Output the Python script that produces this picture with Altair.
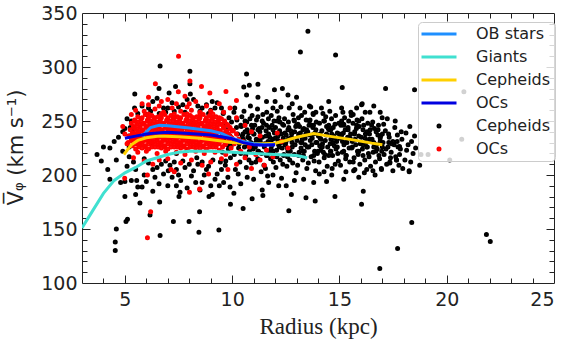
import altair as alt
import pandas as pd

# ---------------- running-mean curves ----------------
ob_r = [5.8, 6.2, 6.6, 7.0, 8.0, 9.0, 9.5, 10.0, 10.5, 11.0, 11.5, 12.0]
ob_v = [236, 244, 246, 245.5, 243.5, 241, 238.5, 234, 231, 229, 228, 228]
giant_r = [3.0, 3.5, 4.0, 4.5, 5.0, 5.5, 6.0, 6.5, 7.0, 7.5, 8.0, 9.0, 10.0, 11.0, 12.0, 13.0, 13.5]
giant_v = [151, 167, 183, 195, 202, 207, 213, 216, 219, 221, 222, 222, 221, 220, 219, 218, 216]
cepl_r = [4.95, 5.3, 5.6, 6.0, 6.6, 7.5, 8.5, 9.5, 10.0, 11.0, 11.5, 12.0, 12.5, 13.0, 13.8, 14.5, 15.5, 16.5, 17.0]
cepl_v = [219, 228, 232, 234.5, 236, 235.5, 234, 231.5, 230, 229, 229, 229.5, 232, 235, 238.5, 236, 233, 229.5, 228]
ocl_r = [5.0, 5.5, 6.0, 6.5, 7.0, 8.0, 9.0, 9.5, 10.0, 10.5, 11.0, 11.5, 12.0]
ocl_v = [234, 236, 238, 239, 239.5, 238.5, 237, 235.5, 233.5, 230, 228, 227.5, 228]

# ---------------- individual Cepheids (black) ----------------
cep_left = [(3.7,219),(3.9,213),(4.0,226),(4.2,205),(4.3,225),(4.3,196),(4.5,231),(4.6,214),(4.6,150),(4.55,138),
            (4.55,130),(4.8,193),(4.9,240),(5.0,180),(5.0,194),(5.05,157),(5.12,159),(5.1,208),(5.0,243),(5.2,226),
            (5.3,195),(5.4,243),(5.46,275),(5.3,250),(5.2,236),(4.9,222),(5.5,182),(5.55,195),(5.7,174),(5.4,212),
            (5.5,205),(5.2,217),(5.35,232),(5.45,262),(5.6,257),(5.6,189),(5.1,252),(4.7,235),(5.25,244)]
cep_mid = [(5.8,264),(6.0,256),(6.1,262),(6.3,268),(6.5,271),(6.59,280),(6.64,301),(6.8,262),(6.9,258),(7.06,276),
           (7.2,267),(7.36,282),(7.5,263),(7.7,265),(7.9,270),(8.03,296),(8.03,284.5),(8.05,275),(8.2,270),(8.4,264),
           (8.6,262),(8.8,265),(9.07,268),(9.3,267),(9.5,262),(9.6,258),(6.2,259),(7.0,262),(7.3,259),(8.5,259),
           (9.0,260),(9.2,262),(7.8,258),(6.6,257),(8.9,257),
           (5.8,189),(5.9,200),(6.17,163),(6.3,205),(6.4,198),(6.59,192),(6.62,175),(6.64,144),(7.0,190),(7.02,204),
           (6.7,210),(7.2,198),(7.26,157),(7.3,212),(7.4,205),(7.57,184),(7.52,180),(7.6,195),(7.8,207),(7.99,157),
           (8.1,199),(8.3,193),(8.4,210),(8.45,147),(8.48,166),(8.5,186),(8.7,200),(8.8,205),(8.92,180),(9.07,182),
           (9.1,214),(9.2,196),(9.38,149),(9.4,190),(9.5,205),(9.7,213),(9.8,198),(9.92,173),(6.1,211),(6.5,207),
           (6.9,213),(7.1,209),(7.7,213),(8.0,210),(8.2,204),(8.6,212),(8.9,208),(9.3,201),(9.6,193),(6.0,194),
           (6.8,201),(7.4,190),(8.6,193),(9.0,190),(7.9,188),(6.3,185),(5.9,215),(7.5,200),(8.35,216),(9.45,212),
           (6.25,230),(6.8,236),(7.4,220),(7.9,223),(8.6,240),(9.1,229),(7.2,244),(8.2,248)]
cep_core = [(9.55,221),(9.62,238),(9.7,247),(9.78,228),(9.85,253),(9.92,216),(9.6,232),(9.68,209),(9.75,242),(9.82,224),
            (9.9,236),(9.97,249),(9.58,257),(9.95,227),
            (10.03,241),(10.1,219),(10.17,232),(10.22,251),(10.3,225),(10.36,212),(10.42,245),(10.08,258),(10.15,205),(10.25,238),
            (10.33,229),(10.4,220),(10.47,236),(10.05,230),(10.2,244),(10.45,254),(10.28,201),(10.12,262),
            (10.52,233),(10.58,246),(10.63,218),(10.7,227),(10.76,239),(10.83,252),(10.9,211),(10.95,243),(10.55,259),(10.66,207),
            (10.73,235),(10.8,222),(10.87,230),(10.93,255),(10.6,240),(10.78,214),(10.98,224),(10.68,249),(10.85,264),(10.57,226),
            (11.02,238),(11.08,226),(11.13,251),(11.19,215),(11.25,243),(11.31,231),(11.37,220),(11.43,256),(11.48,209),(11.05,246),
            (11.12,233),(11.18,261),(11.23,222),(11.29,240),(11.35,203),(11.41,235),(11.46,248),(11.1,212),(11.27,229),(11.39,244),(11.2,254),
            (11.52,229),(11.58,241),(11.63,218),(11.69,252),(11.75,235),(11.81,224),(11.86,246),(11.92,212),(11.97,239),(11.55,206),
            (11.61,258),(11.67,231),(11.73,244),(11.79,215),(11.84,227),(11.9,262),(11.95,250),(11.57,236),(11.7,221),(11.88,233),(11.65,199),(11.82,255),
            (12.02,244),(12.07,223),(12.13,236),(12.18,253),(12.24,214),(12.3,230),(12.35,247),(12.41,219),(12.46,239),(12.04,207),
            (12.1,259),(12.16,228),(12.21,241),(12.27,263),(12.33,225),(12.38,234),(12.44,252),(12.08,217),(12.22,249),(12.36,210),(12.48,228),(12.14,232),
            (12.52,237),(12.57,225),(12.62,249),(12.68,214),(12.73,241),(12.79,230),(12.84,256),(12.9,219),(12.96,245),(12.55,208),
            (12.6,233),(12.66,262),(12.71,222),(12.77,238),(12.82,211),(12.88,251),(12.93,228),(12.98,202),(12.64,244),(12.8,234),(12.91,240),(12.58,217),
            (13.02,232),(13.07,247),(13.12,221),(13.18,239),(13.23,255),(13.29,214),(13.34,243),(13.4,228),(13.45,251),(13.05,209),
            (13.1,236),(13.16,262),(13.21,225),(13.27,233),(13.32,218),(13.38,258),(13.43,238),(13.48,206),(13.14,245),(13.25,230),(13.36,222),(13.47,242),(13.09,253),
            (13.52,240),(13.57,226),(13.63,251),(13.68,217),(13.73,234),(13.79,246),(13.84,222),(13.9,258),(13.95,230),(13.55,211),
            (13.6,237),(13.66,263),(13.71,228),(13.76,244),(13.82,213),(13.87,239),(13.92,249),(13.97,220),(13.64,232),(13.78,256),(13.89,204),(13.58,246),
            (14.02,236),(14.07,248),(14.12,223),(14.18,241),(14.23,257),(14.29,216),(14.34,232),(14.4,245),(14.45,226),(14.05,212),
            (14.1,238),(14.16,262),(14.21,229),(14.27,250),(14.32,219),(14.38,237),(14.43,208),(14.48,243),(14.14,233),(14.25,221),(14.36,254),(14.08,227),
            (14.52,242),(14.57,229),(14.63,252),(14.68,218),(14.73,236),(14.79,247),(14.84,224),(14.9,239),(14.95,213),(14.55,259),
            (14.6,233),(14.66,206),(14.71,244),(14.76,227),(14.82,255),(14.87,231),(14.92,220),(14.97,248),(14.64,238),(14.8,210),(14.58,222),
            (15.02,234),(15.07,246),(15.13,221),(15.18,239),(15.24,253),(15.29,215),(15.35,230),(15.4,244),(15.45,225),(15.05,209),
            (15.1,237),(15.16,258),(15.21,228),(15.27,242),(15.32,218),(15.38,235),(15.43,250),(15.48,212),(15.14,231),(15.3,203),(15.2,247),
            (15.52,238),(15.57,225),(15.63,248),(15.68,216),(15.73,233),(15.79,243),(15.84,222),(15.9,236),(15.95,210),(15.55,255),
            (15.6,231),(15.66,204),(15.71,240),(15.76,228),(15.82,251),(15.87,219),(15.92,245),(15.97,229),(15.64,212),
            (16.02,235),(16.07,224),(16.13,246),(16.18,214),(16.24,230),(16.29,240),(16.35,220),(16.4,233),(16.45,208),(16.05,252),
            (16.1,228),(16.16,202),(16.21,238),(16.27,226),(16.32,248),(16.38,217),(16.43,242),(16.48,231),(16.2,258),
            (16.52,233),(16.57,221),(16.63,243),(16.68,212),(16.73,228),(16.79,237),(16.84,218),(16.9,231),(16.95,206),(16.55,249),
            (16.6,226),(16.66,200),(16.71,240),(16.76,224),(16.82,246),(16.87,215),(16.92,236),(16.97,222),
            (17.03,230),(17.08,219),(17.14,241),(17.2,210),(17.26,226),(17.32,235),(17.38,216),(17.44,229),(17.49,204),(17.06,247),
            (17.17,224),(17.29,238),(17.41,221),(17.23,252),(17.35,212),
            (17.55,228),(17.62,217),(17.7,237),(17.77,209),(17.84,224),(17.91,233),(17.58,244),(17.66,214),(17.73,226),(17.8,219),
            (17.88,240),(17.95,206),(17.69,231),
            (18.05,214),(18.13,223),(18.1,239),(18.28,245),(18.36,231),(18.25,204),(18.43,220),(18.2,228),(18.5,236),(18.32,212),(18.55,225)]
cep_out = [(18.74,209),(18.8,219),(19.13,219),(20.14,214),(20.7,233),(20.8,277),(18.5,279),(17.15,280),(15.13,281),(14.82,311),
           (13.18,314),(13.53,333),(16.06,266),(16.6,264),(15.1,262),(15.53,258),(16.42,258),(16.99,253),(13.6,264),(13.77,257),
           (10.67,293.5),(10.54,281.5),(10.8,283),(11.2,284),(10.67,274),(11.2,272),(11.97,279),(12.34,280),(12.6,274),(13.0,272),
           (12.0,268),(12.8,266),(11.6,268),(14.5,268),(15.8,262),(16.9,258),(17.6,250),(17.49,231),(17.8,226.5),(17.66,214),
           (17.35,211),(16.96,205),(16.56,204),(16.27,205),(15.72,205),(15.64,256),(16.03,265),
           (10.08,183),(10.51,169),(10.93,178),(11.43,181),(11.4,186),(12.17,190),(12.52,190),(12.64,167),(12.76,182),(13.44,179),
           (13.87,176),(13.33,196),(14.06,201),(14.28,203),(14.64,200),(14.79,180),(16.03,173),(16.11,185),(18.37,156),(17.71,132),
           (16.88,113.5),(21.85,145),(22.03,138.5),(18.25,203),(11.0,196),(11.7,193),(12.9,195),(13.8,193),(14.4,194),(15.2,196),
           (15.9,198),(10.4,192),(10.7,198),(11.9,200),(12.3,197),(9.9,189)]
# densest part of the Cepheid cloud, read row by row (velocity: radii)
cep_dense_rows = [
    (250, [10.6, 11.4, 12.1, 12.9, 13.6, 14.3, 15.1, 15.9]),
    (246, [10.4, 10.9, 11.6, 12.4, 13.0, 13.7, 14.5, 15.2, 15.8, 16.5]),
    (242, [10.7, 11.2, 11.9, 12.6, 13.3, 13.9, 14.6, 15.4, 16.1, 16.8]),
    (238, [10.5, 11.0, 11.7, 12.3, 13.1, 13.8, 14.4, 15.0, 15.7, 16.4, 17.0]),
    (234, [10.8, 11.3, 12.0, 12.7, 13.4, 14.1, 14.8, 15.5, 16.2, 16.9]),
    (230, [10.6, 11.1, 11.8, 12.5, 13.2, 13.9, 14.7, 15.3, 16.0, 16.6, 17.3]),
    (226, [10.9, 11.5, 12.2, 12.8, 13.5, 14.2, 14.9, 15.6, 16.3, 17.0]),
    (222, [11.2, 11.9, 12.6, 13.3, 14.0, 14.6, 15.2, 15.9, 16.7]),
    (218, [11.6, 12.4, 13.1, 13.8, 14.5, 15.3, 16.1]),
]

# ---------------- individual open clusters (red) ----------------
oc_core = [(5.9,259),(6.4,261),(6.8,258),(7.2,262),(7.6,259),(8.1,260),(8.5,258),(9.0,259),(6.1,265),(7.4,266),(8.8,264),(6.7,268),(7.9,263),
           (5.6,254),(5.95,256),(6.25,255),(6.55,254),(6.85,256),(7.15,255),(7.45,254),(7.75,256),(8.05,255),(8.35,254),(8.65,256),(8.95,255),(9.25,254),(9.5,252),
           (5.45,251),(5.75,252),(6.05,251),(6.35,253),(6.65,252),(6.95,251),(7.25,253),(7.55,252),(7.85,251),(8.15,253),(8.45,252),(8.75,251),(9.05,253),(9.35,250),(9.65,249),
           (5.3,248),(5.6,249),(5.9,248),(6.2,250),(6.5,249),(6.8,248),(7.1,250),(7.4,249),(7.7,248),(8.0,250),(8.3,249),(8.6,248),(8.9,250),(9.2,249),(9.5,247),(9.8,246),
           (5.4,245),(5.7,246),(6.0,245),(6.3,247),(6.6,246),(6.9,245),(7.2,247),(7.5,246),(7.8,245),(8.1,247),(8.4,246),(8.7,245),(9.0,247),(9.3,246),(9.6,244),(9.9,243),
           (5.25,242),(5.55,243),(5.85,242),(6.15,244),(6.45,243),(6.75,242),(7.05,244),(7.35,243),(7.65,242),(7.95,244),(8.25,243),(8.55,242),(8.85,244),(9.15,243),(9.45,241),(9.75,240),(10.05,241),
           (5.35,239),(5.65,240),(5.95,239),(6.25,241),(6.55,240),(6.85,239),(7.15,241),(7.45,240),(7.75,239),(8.05,241),(8.35,240),(8.65,239),(8.95,241),(9.25,240),(9.55,238),(9.85,237),(10.2,238),
           (5.2,236),(5.5,237),(5.8,236),(6.1,238),(6.4,237),(6.7,236),(7.0,238),(7.3,237),(7.6,236),(7.9,238),(8.2,237),(8.5,236),(8.8,238),(9.1,237),(9.4,235),(9.7,236),(10.0,234),
           (5.3,233),(5.6,234),(5.9,233),(6.2,235),(6.5,234),(6.8,233),(7.1,235),(7.4,234),(7.7,233),(8.0,235),(8.3,234),(8.6,233),(8.9,235),(9.2,234),(9.5,232),(9.8,231),(10.3,233),
           (5.15,230),(5.45,231),(5.75,230),(6.05,232),(6.35,231),(6.65,230),(6.95,232),(7.25,231),(7.55,230),(7.85,232),(8.15,231),(8.45,230),(8.75,232),(9.05,231),(9.35,229),(9.65,228),(10.1,229),
           (5.35,227),(5.65,228),(5.95,227),(6.25,229),(6.55,228),(6.85,227),(7.15,229),(7.45,228),(7.75,227),(8.05,229),(8.35,228),(8.65,227),(8.95,229),(9.25,228),(9.55,226),(9.95,225),
           (5.5,224),(5.8,225),(6.1,224),(6.4,226),(6.7,225),(7.0,224),(7.3,226),(7.6,225),(7.9,224),(8.2,226),(8.5,225),(8.8,224),(9.1,226),(9.4,223),
           (5.6,221),(6.0,222),(6.5,220),(6.9,222),(7.4,221),(7.8,219),(8.3,222),(8.7,220),(9.2,221),(9.7,219)]
oc_dense_rows = [
    (256.5, [6.1, 6.7, 7.3, 7.9, 8.5, 9.1]),
    (253, [5.8, 6.1, 6.4, 6.7, 7.0, 7.3, 7.6, 7.9, 8.2, 8.5, 8.8, 9.1, 9.4]),
    (250, [5.45, 5.75, 6.05, 6.35, 6.65, 6.95, 7.25, 7.55, 7.85, 8.15, 8.45, 8.75, 9.05, 9.35, 9.65]),
    (247, [5.55, 5.85, 6.15, 6.45, 6.75, 7.05, 7.35, 7.65, 7.95, 8.25, 8.55, 8.85, 9.15, 9.45, 9.75]),
    (244, [5.4, 5.7, 6.0, 6.3, 6.6, 6.9, 7.2, 7.5, 7.8, 8.1, 8.4, 8.7, 9.0, 9.3, 9.6, 9.9]),
    (241, [5.5, 5.8, 6.1, 6.4, 6.7, 7.0, 7.3, 7.6, 7.9, 8.2, 8.5, 8.8, 9.1, 9.4, 9.7, 10.0]),
    (238, [5.35, 5.65, 5.95, 6.25, 6.55, 6.85, 7.15, 7.45, 7.75, 8.05, 8.35, 8.65, 8.95, 9.25, 9.55, 9.85]),
    (235, [5.45, 5.75, 6.05, 6.35, 6.65, 6.95, 7.25, 7.55, 7.85, 8.15, 8.45, 8.75, 9.05, 9.35, 9.65, 9.95]),
    (232, [5.3, 5.6, 5.9, 6.2, 6.5, 6.8, 7.1, 7.4, 7.7, 8.0, 8.3, 8.6, 8.9, 9.2, 9.5, 9.85]),
    (229, [5.5, 5.8, 6.1, 6.4, 6.7, 7.0, 7.3, 7.6, 7.9, 8.2, 8.5, 8.8, 9.1, 9.4, 9.7]),
    (226, [5.65, 5.95, 6.25, 6.55, 6.85, 7.15, 7.45, 7.75, 8.05, 8.35, 8.65, 8.95, 9.25]),
]
oc_out = [(5.4,216),(5.9,213),(6.3,210),(6.05,200),(7.0,215),(7.6,211),(8.1,214),(8.6,209),(9.0,212),(9.5,215),
          (10.2,210),(10.6,216),(11.3,214),(11.5,209),(10.9,206),(6.2,166),(6.05,142),(8.01,184),(8.48,187),(4.99,197),
          (7.3,203),(8.9,201),(9.8,205),(10.4,222),(10.8,226),(11.1,219),(11.6,223),(12.1,239),(12.6,225),(11.9,217),
          (10.5,231),(10.9,240),(11.3,236),(10.6,246),(10.2,253),(12.3,231),(7.15,205),(6.6,214),(5.0,238),(5.1,229),(4.9,245),
          (7.5,310),(8.03,287),(6.42,284.5),(8.57,282),(7.49,277),(8.96,276),(9.71,277.4),(10.2,269),(6.1,272),(7.0,270),
          (7.8,273),(8.3,268),(9.4,266),(9.9,262),(5.8,266),(5.5,260),(6.6,264),(8.0,266),(9.6,258),(5.3,256)]

SERIES = ["OB stars", "Giants", "Cepheids", "OCs", "Cepheids ", "OCs "]
COLORS = ["#1e8fff", "#40e0d0", "#ffd000", "#0000e0", "#000000", "#ff0000"]
LINE_SYM = "M-8.75,0H8.75"
SHAPES = [LINE_SYM, LINE_SYM, LINE_SYM, LINE_SYM, "circle", "circle"]
SIZES = [16, 16, 16, 16, 4, 4]

cep_all = cep_left + cep_mid + cep_core + cep_out + [(r, v) for v, rs in cep_dense_rows for r in rs]
oc_all = oc_core + [(r, v) for v, rs in oc_dense_rows for r in rs] + oc_out
pts = pd.DataFrame(
    [{"r": r, "v": v, "series": "Cepheids "} for r, v in cep_all]
    + [{"r": r, "v": v, "series": "OCs "} for r, v in oc_all]
)

FONT = "DejaVu Sans"
INK = "#222222"
W, H = 472, 270
xs = alt.Scale(domain=[3, 25], nice=False, zero=False)
ys = alt.Scale(domain=[100, 350], nice=False, zero=False)

legend = alt.Legend(title=None, orient="none", legendX=336, legendY=9, labelFont=FONT,
                    labelFontSize=16, labelColor=INK, symbolStrokeWidth=3,
                    symbolOffset=9, labelOffset=29, rowPadding=7, padding=4,
                    fillColor="rgba(255,255,255,0.82)", strokeColor="#cccccc", cornerRadius=4)

x_main = alt.Axis(orient="bottom", values=[5, 10, 15, 20, 25], ticks=False, tickSize=0, domain=False, grid=False,
                  labelFont=FONT, labelFontSize=19, labelColor=INK, labelPadding=7,
                  title="Radius (kpc)", titleFont="Liberation Serif", titleFontSize=23, titleFontWeight="normal",
                  titleColor=INK, titleBaseline="alphabetic", titleY=50)
y_main = alt.Axis(orient="left", values=[100, 150, 200, 250, 300, 350], ticks=False, tickSize=0, domain=False, grid=False,
                  labelFont=FONT, labelFontSize=19, labelColor=INK, labelPadding=5,
                  title="V\u0305\u1d69 (km s\u207b\u00b9)", titleFont=FONT, titleFontSize=21, titleFontWeight="normal",
                  titleColor=INK, titleAngle=270, titleX=-66, titleY=134, titleAlign="center", titleBaseline="middle")

scatter = alt.Chart(pts).mark_point(filled=True, opacity=1, strokeWidth=3).encode(
    x=alt.X("r:Q", scale=xs, axis=x_main),
    y=alt.Y("v:Q", scale=ys, axis=y_main),
    fill=alt.Fill("series:N", scale=alt.Scale(domain=SERIES, range=COLORS), legend=legend),
    stroke=alt.Stroke("series:N", scale=alt.Scale(domain=SERIES, range=COLORS), legend=legend),
    shape=alt.Shape("series:N", scale=alt.Scale(domain=SERIES, range=SHAPES), legend=legend),
    size=alt.Size("series:N", scale=alt.Scale(type="ordinal", domain=SERIES, range=SIZES), legend=legend),
)

x_major = [5, 10, 15, 20]
x_minor = [4, 6, 7, 8, 9, 11, 12, 13, 14, 16, 17, 18, 19, 21, 22, 23, 24]
y_major = [150, 200, 250, 300]
y_minor = [110, 120, 130, 140, 160, 170, 180, 190, 210, 220, 230, 240, 260, 270, 280, 290, 310, 320, 330, 340]
TMAJ, TMIN = 8, 5

def tick_axis(orient, offset, values, size):
    return alt.Axis(orient=orient, offset=offset, values=values, tickSize=size, ticks=True, labels=False,
                    domain=False, grid=False, title=None, tickColor=INK, tickWidth=1)

x_tick_axes = [tick_axis("top", -H, x_major, TMAJ), tick_axis("top", -H, x_minor, TMIN),
               tick_axis("bottom", -H, x_major, TMAJ), tick_axis("bottom", -H, x_minor, TMIN)]
y_tick_axes = [tick_axis("right", -W, y_major, TMAJ), tick_axis("right", -W, y_minor, TMIN),
               tick_axis("left", -W, y_major, TMAJ), tick_axis("left", -W, y_minor, TMIN)]

curves = [("Giants", giant_r, giant_v), ("Cepheids", cepl_r, cepl_v),
          ("OB stars", ob_r, ob_v), ("OCs", ocl_r, ocl_v)]
line_layers = []
for i, (name, rr, vv) in enumerate(curves):
    df = pd.DataFrame({"r": rr, "v": vv, "series": [name] * len(rr)})
    line_layers.append(
        alt.Chart(df).mark_line(strokeWidth=3, clip=True).encode(
            x=alt.X("r:Q", scale=xs, axis=x_tick_axes[i]),
            y=alt.Y("v:Q", scale=ys, axis=y_tick_axes[i]),
            stroke=alt.Stroke("series:N", scale=alt.Scale(domain=SERIES, range=COLORS), legend=None),
            order=alt.Order("r:Q"),
        )
    )

chart = alt.layer(scatter, *line_layers).resolve_axis(x="independent", y="independent").properties(
    width=W, height=H, autosize="none",
    padding={"left": 82, "top": 13, "right": 16, "bottom": 59},
    background="white",
).configure_view(stroke=INK, strokeWidth=1)

chart.save("out.html", embed_options={"renderer": "svg", "actions": False})
